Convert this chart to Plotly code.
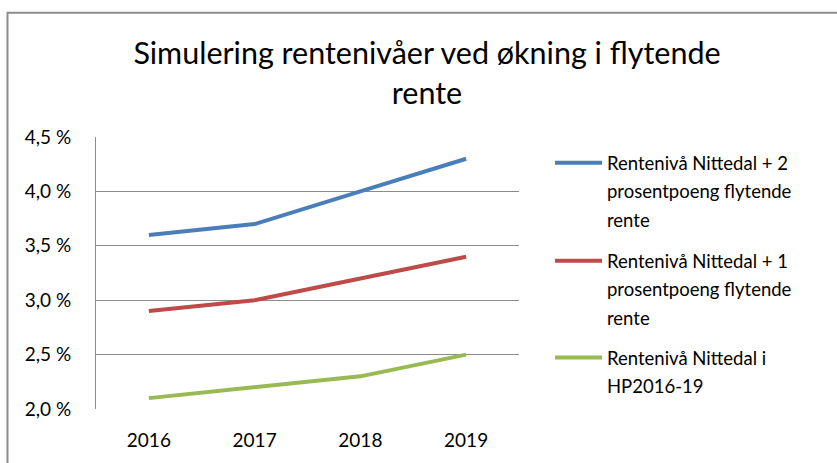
import plotly.graph_objects as go

years = ["2016", "2017", "2018", "2019"]
plus2 = [3.6, 3.7, 4.0, 4.3]
plus1 = [2.9, 3.0, 3.2, 3.4]
base = [2.1, 2.2, 2.3, 2.5]

names = [
    "Rentenivå Nittedal + 2 prosentpoeng flytende rente",
    "Rentenivå Nittedal + 1 prosentpoeng flytende rente",
    "Rentenivå Nittedal i HP2016-19",
]
legend_lines = [
    ["Rentenivå Nittedal + 2", "prosentpoeng flytende", "rente"],
    ["Rentenivå Nittedal + 1", "prosentpoeng flytende", "rente"],
    ["Rentenivå Nittedal i", "HP2016-19"],
]
colors = ["#4A7EBB", "#BE4B48", "#98B954"]
title_text = "Simulering rentenivåer ved økning i flytende<br>rente"

FONT = "Lato, 'Open Sans', sans-serif"
W, H = 837, 463
L, R, T, B = 96, 519, 137, 412

fig = go.Figure()
for vals, name, col in zip([plus2, plus1, base], names, colors):
    fig.add_trace(go.Scatter(x=years, y=vals, name=name, mode="lines",
                             line=dict(color=col, width=4), showlegend=False,
                             hoverinfo="skip"))

def px_x(px):
    return (px - L) / (R - L)

def px_y(py):
    return (B - py) / (B - T)

shapes = []
annotations = []
# outer chart border
shapes.append(dict(type="rect", xref="paper", yref="paper",
                   x0=px_x(7.5), x1=px_x(860), y0=px_y(480), y1=px_y(11.5),
                   line=dict(color="#8C8C8C", width=2), fillcolor="rgba(0,0,0,0)"))

# manual legend (multi-line entries with wide line spacing)
entry_tops = [163, 262, 360]
for lines, col, y0 in zip(legend_lines, colors, entry_tops):
    shapes.append(dict(type="line", xref="paper", yref="paper",
                       x0=px_x(555), x1=px_x(602), y0=px_y(y0), y1=px_y(y0),
                       line=dict(color=col, width=4)))
    for i, t in enumerate(lines):
        annotations.append(dict(text=t, xref="paper", yref="paper",
                                x=px_x(605), y=px_y(y0 + 29 * i),
                                xanchor="left", yanchor="middle", showarrow=False,
                                font=dict(family=FONT, size=18.5, color="#000000")))

fig.update_layout(
    width=W, height=H,
    margin=dict(l=L, r=W - R, t=T, b=H - B, pad=0),
    paper_bgcolor="white", plot_bgcolor="white",
    separators=", ",
    title=dict(text=title_text, x=427 / W, xref="container", xanchor="center",
               y=1 - 64 / H, yref="container", yanchor="top",
               font=dict(family=FONT, size=30.5, color="#000000")),
    font=dict(family=FONT, size=18.5, color="#000000"),
    xaxis=dict(type="category", range=[-0.5, 3.5], showgrid=False,
               showline=False, ticks="", zeroline=False,
               ticklabelstandoff=18,
               tickfont=dict(family=FONT, size=19, color="#000000")),
    yaxis=dict(range=[2.0, 4.5], dtick=0.5, tick0=2.0, tickformat=".1f",
               ticksuffix=" %", showgrid=True, gridcolor="#8C8C8C", gridwidth=1,
               showline=True, linecolor="#8C8C8C", linewidth=1, ticks="",
               zeroline=False, ticklabelstandoff=20,
               tickfont=dict(family=FONT, size=19, color="#000000")),
    shapes=shapes,
    annotations=annotations,
)

fig.write_html("out.html", config={"displayModeBar": False},
               post_script="document.body.style.margin='0';document.body.style.padding='0';")
